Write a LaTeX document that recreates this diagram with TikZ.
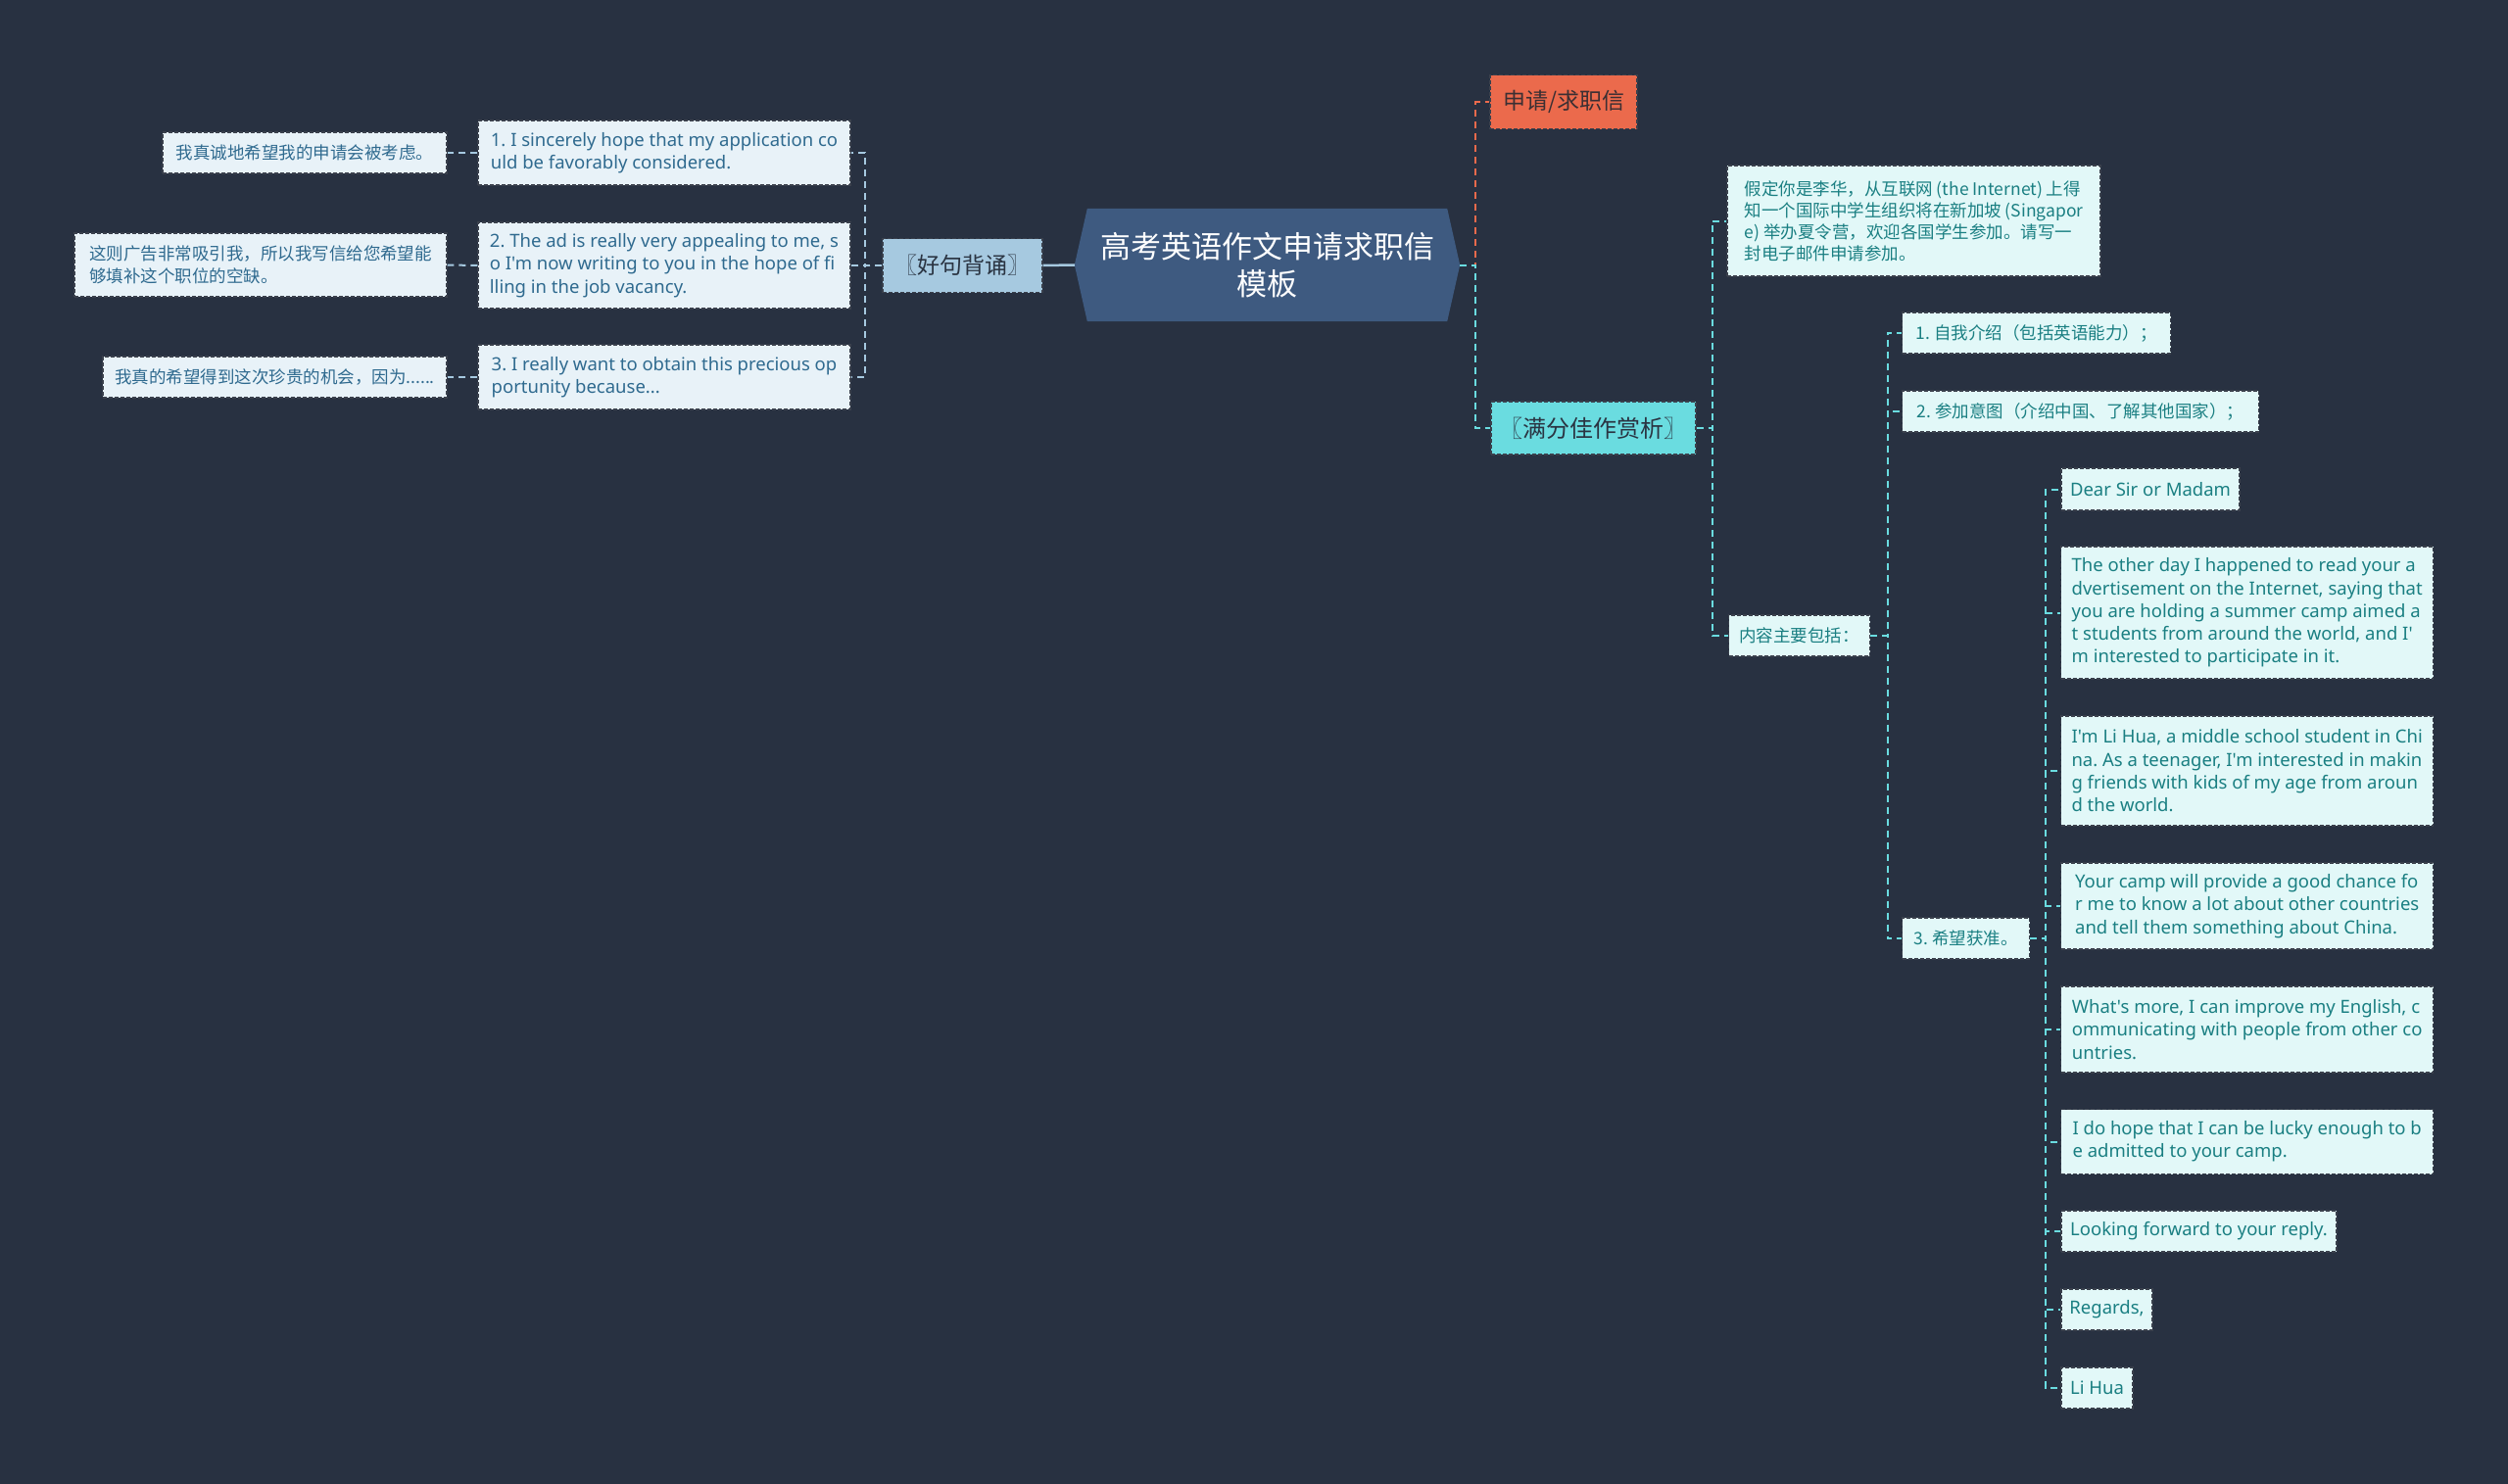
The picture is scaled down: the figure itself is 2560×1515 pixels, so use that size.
\documentclass[tikz,border=0pt]{standalone}
\usepackage{fontspec}
\setmainfont{Noto Sans}
\newfontfamily\en{Noto Sans}
\newfontfamily\cjk{Noto Sans CJK SC}
\usetikzlibrary{calc}
\definecolor{bgc}{HTML}{283141}
\definecolor{hexc}{HTML}{3E5A80}
\definecolor{orc}{HTML}{EB6A4C}
\definecolor{cyc}{HTML}{6ADCE0}
\definecolor{lbc}{HTML}{A6C9E0}
\definecolor{lfill}{HTML}{E8F2F8}
\definecolor{ltext}{HTML}{2F6A8F}
\definecolor{rfill}{HTML}{E2F8F8}
\definecolor{rtext}{HTML}{1A7F82}
\definecolor{bord}{HTML}{3A404C}
\definecolor{dtext}{HTML}{2A3442}
\definecolor{otext}{HTML}{3B2F33}
\pgfdeclarelayer{background}
\pgfsetlayers{background,main}
\frenchspacing
\begin{document}
\begin{tikzpicture}[x=1pt,y=-1pt,
 box/.style={draw=bord, line width=1.2pt, dash pattern=on 4pt off 2pt, inner xsep=6pt, inner ysep=0pt, align=left, minimum height=42pt},
 lbox/.style={box, fill=lfill, text=ltext},
 rbox/.style={box, fill=rfill, text=rtext},
 entext/.style={font=\en\fontsize{18.5}{23.3}\selectfont},
 cntext/.style={font=\cjk\fontsize{17.5}{23}\selectfont},
 topbox/.style={box, align=center, font=\cjk\fontsize{23}{27}\selectfont, minimum height=55pt},
 conn/.style={line width=2pt, dash pattern=on 7pt off 5pt},
 lconn/.style={conn, draw=lbc},
 rconn/.style={conn, draw=cyc},
 oconn/.style={conn, draw=orc}
]
\begin{pgfonlayer}{background}
\fill[bgc] (0,0) rectangle (2560,1515);
\end{pgfonlayer}
\useasboundingbox (0,0) rectangle (2560,1515);

% central node
\node[text=white, font=\cjk\fontsize{31}{38}\selectfont, align=center, minimum width=393pt, minimum height=115pt, inner sep=0pt] (c) at (1293.5,270.5) {高考英语作文申请求职信\\模板};
\begin{pgfonlayer}{background}
\fill[hexc] ($(c.north west)+(13,0)$) -- ($(c.north east)+(-13,0)$) -- (c.east) -- ($(c.south east)+(-13,0)$) -- ($(c.south west)+(13,0)$) -- (c.west) -- cycle;
\end{pgfonlayer}

% first level
\node[topbox, fill=lbc, text=dtext, minimum width=163pt] (hao) at (982.5,271) {〖好句背诵〗};
\node[topbox, fill=orc, text=otext, minimum width=150pt] (shen) at (1596,104) {申请/求职信};
\node[topbox, fill=cyc, text=dtext, minimum width=209pt, minimum height=54pt, font=\cjk\fontsize{24}{28}\selectfont] (man) at (1626.5,437) {〖满分佳作赏析〗};

% left branch
\node[lbox, entext, minimum width=380pt, minimum height=66pt] (en1) at (678,156) {1. I sincerely hope that my application co\\uld be favorably considered.};
\node[lbox, entext, minimum width=380pt, minimum height=88pt] (en2) at (678,271) {2. The ad is really very appealing to me, s\\o I'm now writing to you in the hope of fi\\lling in the job vacancy.};
\node[lbox, entext, minimum width=380pt, minimum height=66pt] (en3) at (678,385) {3. I really want to obtain this precious op\\portunity because...};
\node[lbox, cntext, minimum width=290pt] (cn1) at (311,156) {我真诚地希望我的申请会被考虑。};
\node[lbox, cntext, minimum width=380pt, minimum height=65pt] (cn2) at (266,270.5) {这则广告非常吸引我，所以我写信给您希望能\\够填补这个职位的空缺。};
\node[lbox, cntext, minimum width=351pt] (cn3) at (280.5,385) {我真的希望得到这次珍贵的机会，因为......};

% right branch
\node[rbox, font=\cjk\fontsize{17.5}{22}\selectfont, minimum width=381pt, minimum height=113pt] (jia) at (1953.5,225.5) {假定你是李华，从互联网 (the Internet) 上得\\知一个国际中学生组织将在新加坡 (Singapor\\e) 举办夏令营，欢迎各国学生参加。请写一\\封电子邮件申请参加。};
\node[rbox, cntext, minimum width=144pt] (nei) at (1836.6,649) {内容主要包括：};
\node[rbox, cntext, minimum width=274pt] (r1) at (2078.5,340) {1.~自我介绍（包括英语能力）；};
\node[rbox, cntext, minimum width=364pt] (r2) at (2123.5,420) {2.~参加意图（介绍中国、了解其他国家）；};
\node[rbox, cntext, minimum width=130pt] (r3) at (2006.5,958) {3.~希望获准。};

\node[rbox, entext, minimum width=182pt, minimum height=43pt] (d1) at (2195,499.5) {Dear Sir or Madam};
\node[rbox, entext, minimum width=380pt, minimum height=135pt] (d2) at (2293.7,625.5) {The other day I happened to read your a\\dvertisement on the Internet, saying that\\you are holding a summer camp aimed a\\t students from around the world, and I'\\m interested to participate in it.};
\node[rbox, entext, minimum width=380pt, minimum height=112pt] (d3) at (2293.7,787) {I'm Li Hua, a middle school student in Chi\\na. As a teenager, I'm interested in makin\\g friends with kids of my age from aroun\\d the world.};
\node[rbox, entext, minimum width=380pt, minimum height=88pt] (d4) at (2293.7,925) {Your camp will provide a good chance fo\\r me to know a lot about other countries\\and tell them something about China.};
\node[rbox, entext, minimum width=380pt, minimum height=88pt] (d5) at (2293.7,1051) {What's more, I can improve my English, c\\ommunicating with people from other co\\untries.};
\node[rbox, entext, minimum width=380pt, minimum height=66pt] (d6) at (2293.7,1165.5) {I do hope that I can be lucky enough to b\\e admitted to your camp.};
\node[rbox, entext, minimum width=281pt] (d7) at (2244.5,1257) {Looking forward to your reply.};
\node[rbox, entext, minimum width=93pt] (d8) at (2150.5,1337) {Regards,};
\node[rbox, entext, minimum width=73pt] (d9) at (2140.5,1417) {Li Hua};

% connectors
\draw[line width=2.5pt, draw=lbc] (c.west) -- (hao.east);
\foreach \n in {en1,en2,en3} \draw[lconn] (hao.west) -- ++(-17,0) |- (\n.east);
\draw[lconn] (en1.west) -- (cn1.east);
\draw[lconn] (en2.west) -- (cn2.east);
\draw[lconn] (en3.west) -- (cn3.east);

\draw[oconn] (c.east) -- ++(16,0) |- (shen.west);
\draw[rconn] (c.east) -- ++(16,0) |- (man.west);
\foreach \n in {jia,nei} \draw[rconn] (man.east) -- ++(16,0) |- (\n.west);
\foreach \n in {r1,r2,r3} \draw[rconn] (nei.east) -- ++(17.3,0) |- (\n.west);
\foreach \n in {d1,d2,d3,d4,d5,d6,d7,d8,d9} \draw[rconn] (r3.east) -- ++(15.7,0) |- (\n.west);
\end{tikzpicture}
\end{document}
